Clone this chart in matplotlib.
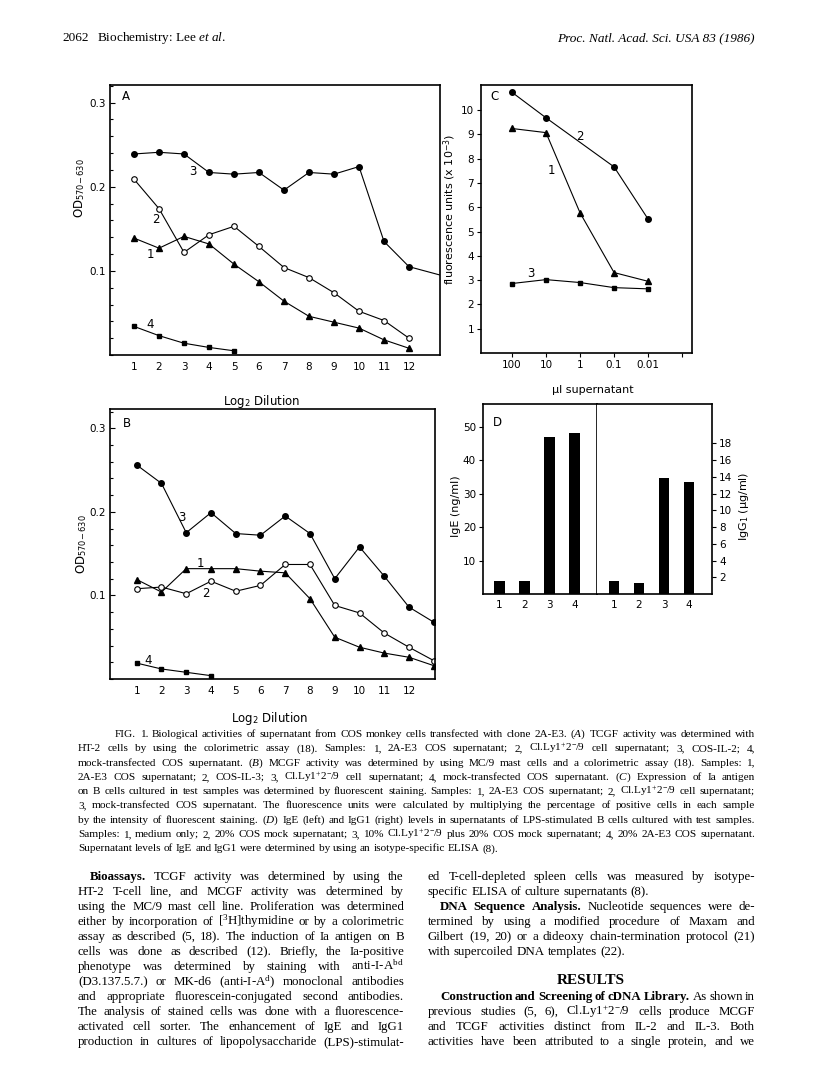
import matplotlib
matplotlib.use('Agg')
import matplotlib.pyplot as plt
from matplotlib.ticker import MultipleLocator

plt.rcParams['font.family'] = 'DejaVu Sans'
plt.rcParams['mathtext.fontset'] = 'custom'
plt.rcParams['mathtext.rm'] = 'Liberation Serif'
plt.rcParams['mathtext.it'] = 'Liberation Serif:italic'
plt.rcParams['mathtext.bf'] = 'Liberation Serif:bold'

W, H = 816, 1078

# ---- panel A: TCGF activity (HT-2) ----
dil = list(range(1, 13))
a_2ae3 = [0.139, 0.127, 0.141, 0.132, 0.108, 0.087, 0.064, 0.046, 0.039, 0.032, 0.018, 0.008]
a_clly = [0.209, 0.174, 0.122, 0.143, 0.153, 0.129, 0.104, 0.092, 0.074, 0.052, 0.041, 0.020]
a_il2_x = list(range(1, 13)) + [13.5]
a_il2 = [0.239, 0.241, 0.239, 0.217, 0.215, 0.217, 0.196, 0.217, 0.215, 0.224, 0.135, 0.105, 0.093]
a_mock_x = [1, 2, 3, 4, 5]
a_mock = [0.034, 0.023, 0.014, 0.009, 0.005]

# ---- panel B: MCGF activity (MC/9) ----
dil_b = list(range(1, 14))
b_2ae3 = [0.119, 0.104, 0.132, 0.132, 0.132, 0.129, 0.127, 0.096, 0.050, 0.038, 0.031, 0.026, 0.016]
b_il3 = [0.108, 0.110, 0.102, 0.117, 0.105, 0.112, 0.137, 0.137, 0.088, 0.079, 0.055, 0.038, 0.022]
b_clly = [0.256, 0.234, 0.175, 0.199, 0.174, 0.172, 0.195, 0.174, 0.120, 0.158, 0.123, 0.086, 0.068]
b_mock_x = [1, 2, 3, 4]
b_mock = [0.019, 0.012, 0.008, 0.004]

# ---- panel C: Ia expression ----
c_labels = ['100', '10', '1', '0.1', '0.01']
c_pos = [0, 1, 2, 3, 4]
c_2ae3 = [9.24, 9.07, 5.77, 3.31, 2.95]
c_clly_pos = [0, 1, 3, 4]
c_clly = [10.73, 9.68, 7.66, 5.51]
c_mock = [2.86, 3.02, 2.90, 2.69, 2.64]

# ---- panel D: IgE / IgG1 ----
d_samples = [1, 2, 3, 4]
d_ige = [4.0, 4.0, 47.1, 48.3]
d_igg1 = [1.5, 1.35, 13.9, 13.4]


def box(l, t, r, b):
    return [l / W, 1 - b / H, (r - l) / W, (b - t) / H]


fig = plt.figure(figsize=(W / 100, H / 100), dpi=100)

mk = dict(color='black', lw=0.8, clip_on=True)
tri = dict(marker='^', ms=5, **mk)
dot = dict(marker='o', ms=4, **mk)
ring = dict(marker='o', ms=4, mfc='white', mec='black', mew=0.8, **mk)
sq = dict(marker='s', ms=3.5, **mk)
lab = dict(fontsize=8.5, ha='center', va='center')


def style_od(ax):
    for s in ax.spines.values():
        s.set_linewidth(1.2)
    ax.set_yticks([0.1, 0.2, 0.3])
    ax.set_yticklabels(['0.1', '0.2', '0.3'])
    ax.yaxis.set_minor_locator(MultipleLocator(0.02))
    ax.set_xticks(range(1, 13))
    ax.set_xticklabels([str(i) for i in range(1, 13)])
    ax.tick_params(axis='both', which='major', direction='in', length=3.5, width=0.8, labelsize=7.5, pad=3)
    ax.tick_params(axis='y', which='minor', direction='in', length=2.5, width=0.8)
    ax.tick_params(axis='x', which='major', length=0, pad=5)


# panel A
ax = fig.add_axes(box(110, 85, 440, 355))
ax.plot(dil, a_2ae3, **tri)
ax.plot(dil, a_clly, **ring)
ax.plot(a_il2_x, a_il2, **dot)
ax.plot(a_mock_x, a_mock, **sq)
ax.set_xlim(0.04, 13.24)
ax.set_ylim(0, 0.321)
style_od(ax)
ax.text(3.37, 0.218, '3', **lab)
ax.text(1.88, 0.1615, '2', **lab)
ax.text(1.64, 0.1195, '1', **lab)
ax.text(1.64, 0.036, '4', **lab)
ax.text(0.035, 0.957, 'A', transform=ax.transAxes, fontsize=8.5, va='center')
ax.set_ylabel(r'OD$_{\mathregular{570-630}}$', fontsize=8.5)
ax.yaxis.set_label_coords(-0.07, 0.62)
ax.set_xlabel(r'Log$_{\mathregular{2}}$ Dilution', fontsize=8.5)
ax.xaxis.set_label_coords(0.46, -0.14)

# panel B
ax = fig.add_axes(box(110, 409, 435, 679))
ax.plot(dil_b, b_2ae3, **tri)
ax.plot(dil_b, b_il3, **ring)
ax.plot(dil_b, b_clly, **dot)
ax.plot(b_mock_x, b_mock, **sq)
ax.set_xlim(-0.08, 13.05)
ax.set_ylim(0, 0.323)
style_od(ax)
ax.text(2.82, 0.193, '3', **lab)
ax.text(3.56, 0.1386, '1', **lab)
ax.text(3.8, 0.1027, '2', **lab)
ax.text(1.47, 0.022, '4', **lab)
ax.text(0.04, 0.948, 'B', transform=ax.transAxes, fontsize=8.5, va='center')
ax.set_ylabel(r'OD$_{\mathregular{570-630}}$', fontsize=8.5)
ax.yaxis.set_label_coords(-0.065, 0.5)
ax.set_xlabel(r'Log$_{\mathregular{2}}$ Dilution', fontsize=8.5)
ax.xaxis.set_label_coords(0.49, -0.115)

# panel C
ax = fig.add_axes(box(481, 85, 692, 353))
ax.plot(c_pos, c_2ae3, **tri)
ax.plot(c_clly_pos, c_clly, **dot)
ax.plot(c_pos, c_mock, **sq)
ax.set_xlim(-0.91, 5.29)
ax.set_ylim(0, 11.03)
for s in ax.spines.values():
    s.set_linewidth(1.2)
ax.set_xticks(range(6))
ax.set_xticklabels(c_labels + [''])
ax.set_yticks(range(1, 11))
ax.tick_params(axis='both', direction='out', length=3, width=0.8, labelsize=7.5, pad=2)
ax.text(2.01, 8.93, '2', **lab)
ax.text(1.15, 7.5, '1', **lab)
ax.text(0.56, 3.27, '3', **lab)
ax.text(0.043, 0.956, 'C', transform=ax.transAxes, fontsize=8.5, va='center')
ax.set_ylabel(r'fluorescence units (x 10$^{\mathregular{-3}}$)', fontsize=8)
ax.yaxis.set_label_coords(-0.11, 0.535)
ax.set_xlabel('\u03bcl supernatant', fontsize=8)
ax.xaxis.set_label_coords(0.53, -0.12)

# panel D
axl = fig.add_axes(box(483, 404, 597, 594))
axl.bar(d_samples, d_ige, width=0.42, color='black')
axl.set_xlim(0.35, 4.91)
axl.set_ylim(0, 56.9)
axl.set_xticks(d_samples)
axl.set_yticks([10, 20, 30, 40, 50])
axl.tick_params(axis='y', direction='out', length=3, width=0.8, labelsize=7.5, pad=2)
axl.tick_params(axis='x', length=0, labelsize=7.5, pad=4)
for s in axl.spines.values():
    s.set_linewidth(1.2)
axl.text(0.09, 0.905, 'D', transform=axl.transAxes, fontsize=8.5, va='center')
axl.set_ylabel('IgE (ng/ml)', fontsize=8)
axl.yaxis.set_label_coords(-0.19, 0.46)

axr = fig.add_axes(box(597, 404, 712, 594))
axr.bar(d_samples, d_igg1, width=0.42, color='black')
axr.set_xlim(0.32, 4.92)
axr.set_ylim(0, 22.7)
axr.set_xticks(d_samples)
axr.yaxis.tick_right()
axr.yaxis.set_label_position('right')
axr.set_yticks(range(2, 20, 2))
axr.tick_params(axis='y', direction='out', length=3, width=0.8, labelsize=7.5, pad=2)
axr.tick_params(axis='x', length=0, labelsize=7.5, pad=4)
for s in axr.spines.values():
    s.set_linewidth(1.2)
axr.spines['left'].set_visible(False)
axr.set_ylabel('IgG$_{\\mathregular{1}}$ (\u03bcg/ml)', fontsize=8, rotation=90)
axr.yaxis.set_label_coords(1.22, 0.46)

# ---- page text ----
rend = fig.canvas.get_renderer()
SERIF = 'Liberation Serif'


def put_line(x0, x1, y, line, size, justify=True):
    arts, widths = [], []
    for w in line.split():
        weight = 'normal'
        if w.startswith('*'):
            w, weight = w[1:], 'bold'
        t = fig.text(0, 1 - y / H, w, fontsize=size, family=SERIF, weight=weight,
                     va='baseline', ha='left')
        arts.append(t)
        widths.append(t.get_window_extent(rend).width)
    if justify and len(arts) > 1:
        gap = (x1 - x0 - sum(widths)) / (len(arts) - 1)
    else:
        gap = size * 0.25 * 100 / 72
    x = x0
    for t, w in zip(arts, widths):
        t.set_x(x / W)
        x += w + gap


fig.text(62 / W, 1 - 41 / H, '2062', fontsize=9.5, family=SERIF)
fig.text(97 / W, 1 - 41 / H, 'Biochemistry: Lee $\\mathit{et\\ al.}$', fontsize=9.5, family=SERIF)
fig.text(755 / W, 1 - 41 / H, 'Proc. Natl. Acad. Sci. USA 83 (1986)', fontsize=9.5,
         family=SERIF, style='italic', ha='right')

SUP = r'Cl.Ly1$^{\mathregular{+}}$2$^{\mathregular{-}}$/9'
caption = [
    'FIG. 1.  Biological activities of supernatant from COS monkey cells transfected with clone 2A-E3. ($\\mathit{A}$) TCGF activity was determined with',
    'HT-2 cells by using the colorimetric assay (18). Samples: 1, 2A-E3 COS supernatant; 2, ' + SUP + ' cell supernatant; 3, COS-IL-2; 4,',
    'mock-transfected COS supernatant. ($\\mathit{B}$) MCGF activity was determined by using MC/9 mast cells and a colorimetric assay (18). Samples: 1,',
    '2A-E3 COS supernatant; 2, COS-IL-3; 3, ' + SUP + ' cell supernatant; 4, mock-transfected COS supernatant. ($\\mathit{C}$) Expression of Ia antigen',
    'on B cells cultured in test samples was determined by fluorescent staining. Samples: 1, 2A-E3 COS supernatant; 2, ' + SUP + ' cell supernatant;',
    '3, mock-transfected COS supernatant. The fluorescence units were calculated by multiplying the percentage of positive cells in each sample',
    'by the intensity of fluorescent staining. ($\\mathit{D}$) IgE (left) and IgG1 (right) levels in supernatants of LPS-stimulated B cells cultured with test samples.',
    'Samples: 1, medium only; 2, 20% COS mock supernatant; 3, 10% ' + SUP + ' plus 20% COS mock supernatant; 4, 20% 2A-E3 COS supernatant.',
    'Supernatant levels of IgE and IgG1 were determined by using an isotype-specific ELISA (8).',
]
for i, line in enumerate(caption):
    x0 = 115 if i == 0 else 78
    put_line(x0, 755, 737 + i * 14.3, line, 8.1, justify=(i < len(caption) - 1))

left_col = [
    '*Bioassays. TCGF activity was determined by using the',
    'HT-2 T-cell line, and MCGF activity was determined by',
    'using the MC/9 mast cell line. Proliferation was determined',
    'either by incorporation of [$^{\\mathregular{3}}$H]thymidine or by a colorimetric',
    'assay as described (5, 18). The induction of Ia antigen on B',
    'cells was done as described (12). Briefly, the Ia-positive',
    'phenotype was determined by staining with anti-I-A$^{\\mathregular{bd}}$',
    '(D3.137.5.7.) or MK-d6 (anti-I-A$^{\\mathregular{d}}$) monoclonal antibodies',
    'and appropriate fluorescein-conjugated second antibodies.',
    'The analysis of stained cells was done with a fluorescence-',
    'activated cell sorter. The enhancement of IgE and IgG1',
    'production in cultures of lipopolysaccharide (LPS)-stimulat-',
]
for i, line in enumerate(left_col):
    x0 = 90 if i == 0 else 78
    put_line(x0, 404, 880 + i * 15, line, 9.3)

right_col = [
    (0, 'ed T-cell-depleted spleen cells was measured by isotype-', True),
    (1, 'specific ELISA of culture supernatants (8).', False),
    (2, '*DNA *Sequence *Analysis. Nucleotide sequences were de-', True),
    (3, 'termined by using a modified procedure of Maxam and', True),
    (4, 'Gilbert (19, 20) or a dideoxy chain-termination protocol (21)', True),
    (5, 'with supercoiled DNA templates (22).', False),
    (8, '*Construction *and *Screening *of *cDNA *Library. As shown in', True),
    (9, 'previous studies (5, 6), ' + SUP + ' cells produce MCGF', True),
    (10, 'and TCGF activities distinct from IL-2 and IL-3. Both', True),
    (11, 'activities have been attributed to a single protein, and we', True),
]
for row, line, just in right_col:
    x0 = 440 if row in (2, 8) else 428
    put_line(x0, 755, 880 + row * 15, line, 9.3, justify=just)
fig.text(591 / W, 1 - (880 + 6.9 * 15) / H, 'RESULTS', fontsize=11, family=SERIF,
         weight='bold', ha='center', va='baseline')

fig.savefig('out.png', dpi=100, facecolor='white')
